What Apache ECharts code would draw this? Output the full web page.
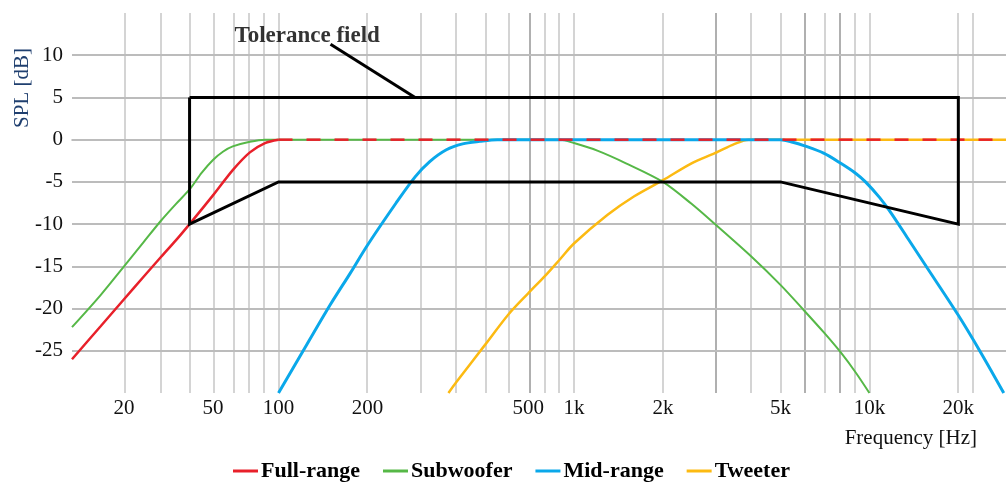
<!DOCTYPE html>
<html>
<head>
<meta charset="utf-8">
<script src="https://cdn.jsdelivr.net/npm/echarts@6/dist/echarts.min.js"></script>
<style>
  html, body { margin: 0; padding: 0; background: #fff; }
  #chart { width: 1006px; height: 485px; }
</style>
</head>
<body>
<div id="chart"></div>
<script>
'use strict';
const SERIF = '"Liberation Serif", "Times New Roman", serif';

// x axis: frequency in Hz (log), y axis: SPL in dB
const gridHz = [20, 30, 40, 50, 60, 70, 80, 90, 100, 200, 300, 400, 500, 600, 700, 800, 900,
  1000, 2000, 3000, 4000, 5000, 6000, 7000, 8000, 9000, 10000, 20000, 22400];
const darkGridHz = [700, 3000, 6000, 8000];
const gridDb = [10, 5, 0, -5, -10, -15, -20, -25];
// tick labels as they sit on the reference axis
const tickLabels = ['20', '50', '100', '200', '500', '1k', '2k', '5k', '10k', '20k'];
const tickLabelHz = [30, 60, 100, 200, 700, 1000, 2000, 5000, 10000, 20000];

const fullRangeHz = [20, 25, 30, 35, 40, 45, 50, 60, 70, 80, 90, 100];
const fullRangeDb = [-26, -22.1, -18.9, -16.2, -13.9, -11.9, -10, -6.6, -3.6, -1.5, -0.4, 0];
const fullRangeFlatHz = [100, 29000];
const fullRangeFlatDb = [0, 0];

const subwooferHz = [20, 25, 30, 35, 40, 45, 50, 55, 60, 65, 70, 80, 90, 900, 1000, 1200, 1500,
  2000, 2500, 3000, 4000, 5000, 6000, 7000, 8000, 9000, 10000];
const subwooferDb = [-22.2, -18.4, -15, -12.1, -9.6, -7.6, -5.9, -3.9, -2.4, -1.4, -0.8, -0.25, 0, 0,
  -0.4, -1.3, -2.8, -5, -7.6, -10, -13.9, -17.2, -20.2, -22.8, -25.2, -27.6, -30];

const midRangeHz = [100, 125, 150, 175, 200, 250, 290, 325, 370, 420, 480, 550, 5000, 5500, 6000,
  7000, 8000, 9000, 9700, 10800, 11800, 13500, 15700, 20000, 24000, 28500];
const midRangeDb = [-30, -24.2, -19.5, -15.8, -12.5, -7.5, -4.4, -2.6, -1.2, -0.5, -0.2, 0, 0, -0.3,
  -0.7, -1.6, -2.8, -4, -5, -6.8, -8.6, -11.7, -15.2, -20.8, -25.4, -30];

const tweeterHz = [376, 400, 500, 600, 700, 800, 900, 1000, 1300, 1600, 2000, 2500, 3000, 3500, 3900, 29000];
const tweeterDb = [-30, -28.7, -24.3, -20.7, -18.2, -16.1, -14.1, -12.3, -8.9, -6.7, -4.8, -2.8, -1.6, -0.5, 0, 0];

const toleranceHz = [50, 20000, 20000, 5000, 100, 50, 50];
const toleranceDb = [5, 5, -10, -5, -5, -10, 5];
const pointerHz = [150, 290];
const pointerDb = [11.3, 5];
const noteHz = [125];
const noteDb = [12.3];

const colors = { full: '#E8202A', sub: '#56B847', mid: '#0AA8EA', tweet: '#FCBA12' };

const lg = (f) => Math.log10(f);
const pts = (hz, db) => hz.map((f, i) => [lg(f), db[i]]);

const curve = (name, hz, db, color, width, extra) => Object.assign({
  name: name,
  type: 'line',
  data: pts(hz, db),
  symbol: 'none',
  smooth: 0.3,
  lineStyle: { color: color, width: width },
  itemStyle: { color: color },
  emphasis: { disabled: true },
  z: 3
}, extra || {});

const gridLines = []
  .concat(gridHz.map(f => ({ xAxis: lg(f) })))
  .concat(darkGridHz.map(f => ({ xAxis: lg(f), lineStyle: { color: '#a4a4a4', width: 1.5, type: 'solid' } })))
  .concat(gridDb.map(d => ({ yAxis: d, lineStyle: { color: '#bcbcbc', width: 2, type: 'solid' } })));

let option = {
  animation: false,
  grid: { left: 72, right: 0, top: 13, bottom: 92 },
  legend: {
    data: ['Full-range', 'Subwoofer', 'Mid-range', 'Tweeter'],
    left: 233,
    top: 460,
    padding: 0,
    icon: 'rect',
    itemWidth: 25,
    itemHeight: 3,
    itemGap: 23,
    textStyle: { fontFamily: SERIF, fontSize: 22, fontWeight: 'bold', color: '#000', padding: [0, 0, 0, -2] }
  },
  xAxis: {
    type: 'value',
    min: lg(20),
    max: lg(29000),
    axisLine: { show: true, lineStyle: { color: '#a8a8a8', width: 1.5 } },
    axisTick: { show: false },
    splitLine: { show: false },
    axisLabel: {
      customValues: tickLabelHz.map(lg),
      margin: 5,
      color: '#111',
      fontFamily: SERIF,
      fontSize: 21,
      formatter: (v) => {
        let i = tickLabelHz.findIndex(f => Math.abs(lg(f) - v) < 1e-6);
        return i >= 0 ? tickLabels[i] : '';
      }
    }
  },
  yAxis: {
    type: 'value',
    min: -30,
    max: 15,
    interval: 5,
    axisLine: { show: false },
    axisTick: { show: false },
    splitLine: { show: false },
    axisLabel: {
      margin: 9,
      color: '#111',
      fontFamily: SERIF,
      fontSize: 21,
      formatter: (v) => (v <= -30 || v >= 15) ? '' : String(v)
    }
  },
  graphic: [
    {
      type: 'text', x: 22, y: 88, rotation: Math.PI / 2,
      style: { text: 'SPL [dB]', fill: '#1F3F6F', font: '21px ' + SERIF, align: 'center', verticalAlign: 'middle' }
    },
    {
      type: 'text', x: 977, y: 438,
      style: { text: 'Frequency [Hz]', fill: '#111', font: '21px ' + SERIF, align: 'right', verticalAlign: 'middle' }
    }
  ],
  series: [
    {
      name: 'grid',
      type: 'line',
      data: [],
      silent: true,
      z: 1,
      markLine: {
        silent: true,
        z: 1,
        symbol: 'none',
        label: { show: false },
        emphasis: { disabled: true },
        lineStyle: { color: '#c6c6c6', width: 1.5, type: 'solid' },
        data: gridLines
      }
    },
    curve('Tweeter', tweeterHz, tweeterDb, colors.tweet, 2.5),
    curve('Subwoofer', subwooferHz, subwooferDb, colors.sub, 2),
    curve('Mid-range', midRangeHz, midRangeDb, colors.mid, 3),
    curve('Full-range', fullRangeHz, fullRangeDb, colors.full, 2.5),
    curve('Full-range', fullRangeFlatHz, fullRangeFlatDb, colors.full, 2.5,
      { smooth: false, lineStyle: { color: colors.full, width: 2.5, type: [14, 14] } }),
    {
      name: 'Tolerance field',
      type: 'line',
      data: pts(toleranceHz, toleranceDb),
      symbol: 'none',
      silent: true,
      lineStyle: { color: '#000', width: 3, join: 'miter' },
      z: 4
    },
    {
      name: 'pointer',
      type: 'line',
      data: pts(pointerHz, pointerDb),
      symbol: 'none',
      silent: true,
      lineStyle: { color: '#000', width: 3 },
      z: 4
    },
    {
      name: 'note',
      type: 'scatter',
      data: pts(noteHz, noteDb),
      symbolSize: 1,
      silent: true,
      itemStyle: { color: 'rgba(0,0,0,0)' },
      label: {
        show: true,
        position: 'inside',
        formatter: 'Tolerance field',
        fontFamily: SERIF,
        fontSize: 23,
        fontWeight: 'bold',
        color: '#000'
      },
      z: 4
    }
  ]
};

let myChart = echarts.init(document.getElementById('chart'));
myChart.setOption(option);
</script>
</body>
</html>
